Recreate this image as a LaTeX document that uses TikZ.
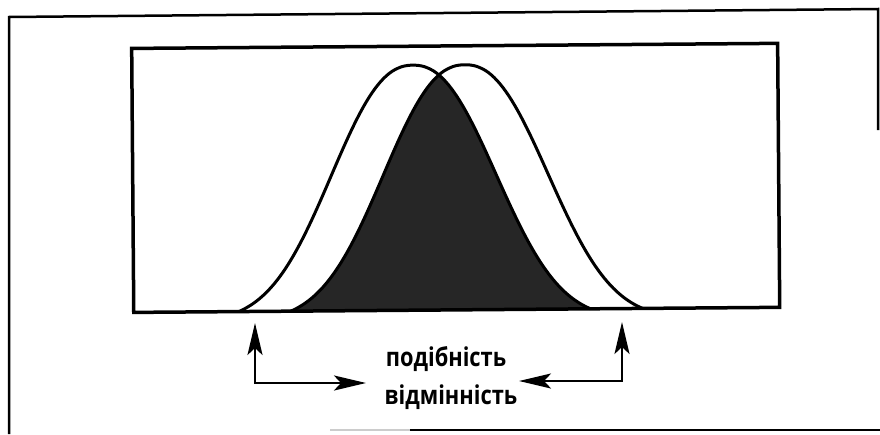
\documentclass[tikz,border=0pt]{standalone}
\usepackage{fontspec}
\newfontfamily\lblfont[FakeStretch=0.84]{Open Sans}
\usetikzlibrary{arrows.meta}

\begin{document}
\begin{tikzpicture}[x=1pt, y=-1pt,
    >={Stealth[length=32pt, width=15pt, inset=7pt]},
    declare function={bell(\u)=245*(exp(-pow(abs(\u)/106+0.001,2.3))-0.0404)/0.9596;},
    frm/.style={line width=2.5pt},
    crv/.style={line width=3pt, line join=round},
    box/.style={line width=3.5pt},
    ar/.style={<->, line width=2.6pt},
    lbl/.style={font=\lblfont\bfseries\fontsize{26}{30}\selectfont, inner sep=0pt, anchor=base}
  ]
  \useasboundingbox (0,0) rectangle (880,434);
  \draw[frm] (9,434) -- (9,17) -- (878,9) -- (878,130);
  \draw[frm, gray!40] (330,430) -- (410,430);
  \draw[frm] (410,430) -- (880,430);

  \begin{scope}[rotate around={0.45:(440,217)}]
    \fill[black!85] plot[domain=-176:-26, samples=60] ({466+\x},{310-bell(\x)})
      -- plot[domain=26:176, samples=60] ({414+\x},{310-bell(\x)}) -- cycle;
    \draw[crv] plot[domain=-176:176, samples=121] ({414+\x},{310-bell(\x)});
    \draw[crv] plot[domain=-176:176, samples=121] ({466+\x},{310-bell(\x)});
    \draw[box] (133,46) rectangle (779,310);
  \end{scope}

  \node[lbl] (sim) at (446,366) {подібність};
  \node[lbl] (diff) at (451,404) {відмінність};
  \coordinate (lfoot) at (255,323);
  \coordinate (ltip) at (366,383);
  \coordinate (rfoot) at (622,322);
  \coordinate (rtip) at (519,381);
  \draw[ar] (lfoot) |- (ltip);
  \draw[ar] (rfoot) |- (rtip);
\end{tikzpicture}
\end{document}
